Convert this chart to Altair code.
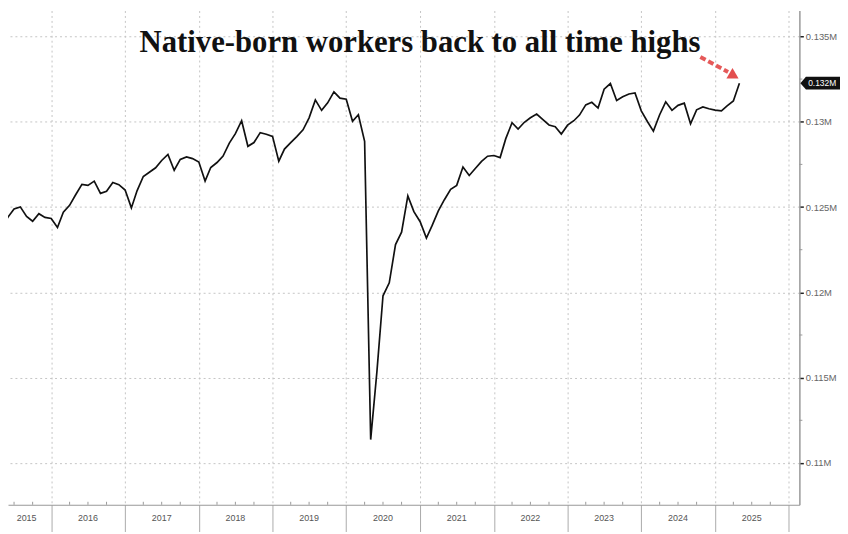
import altair as alt
import pandas as pd

# ---------------- data (monthly; units: thousands of the "M" axis unit) -------------
start_month = "2015-05-01"
values = [
    123.79, 124.41, 124.89, 125.01, 124.45, 124.17, 124.61, 124.39,
    124.33, 123.80, 124.70, 125.10, 125.72, 126.33, 126.27, 126.52, 125.80, 125.92, 126.44, 126.31,
    126.00, 124.95, 125.95, 126.79, 127.04, 127.30, 127.73, 128.08, 127.16, 127.79, 127.94, 127.84,
    127.64, 126.52, 127.32, 127.61, 127.99, 128.75, 129.30, 130.06, 128.56, 128.78, 129.36, 129.27,
    129.14, 127.69, 128.40, 128.78, 129.13, 129.53, 130.23, 131.28, 130.67, 131.11, 131.75, 131.38,
    131.32, 130.03, 130.41, 128.85, 111.37, 115.37, 119.80, 120.56, 122.80, 123.53, 125.65, 124.73,
    124.14, 123.18, 123.91, 124.78, 125.43, 126.04, 126.27, 127.35, 126.85, 127.26, 127.68, 127.98,
    128.02, 127.90, 129.01, 129.94, 129.57, 129.97, 130.23, 130.45, 130.12, 129.81, 129.71, 129.28,
    129.80, 130.06, 130.39, 130.99, 131.14, 130.80, 131.91, 132.24, 131.25, 131.46, 131.63, 131.69,
    130.64, 130.00, 129.45, 130.41, 131.17, 130.67, 130.96, 131.09, 129.88, 130.70, 130.87, 130.76,
    130.68, 130.64, 130.93, 131.22, 132.26,
]
year_labels = ["2015", "2016", "2017", "2018", "2019", "2020", "2021", "2022", "2023", "2024", "2025"]
year_label_dates = ["2015-09-01", "2016-07-01", "2017-07-01", "2018-07-01", "2019-07-01", "2020-07-01",
                    "2021-07-01", "2022-07-01", "2023-07-01", "2024-07-01", "2025-07-01"]
year_ticks = [2016, 2017, 2018, 2019, 2020, 2021, 2022, 2023, 2024, 2025, 2026]
y_ticks = [110, 115, 120, 125, 130, 135]
y_minor = [112.5, 117.5, 122.5, 127.5, 132.5]
title_text = "Native-born workers back to all time highs"

W, H = 799, 499

dates = pd.date_range(start_month, periods=len(values), freq="MS").strftime("%Y-%m-%d")
df = pd.DataFrame({"date": dates, "value": values})
last = df.tail(1).copy()

years_df = pd.DataFrame({"date": year_label_dates, "label": year_labels})
minor_x = pd.DataFrame({"date": [f"{y}-{m:02d}-01" for y in range(2015, 2026) for m in (4, 7, 10)
                                 if not (y == 2015 and m == 4)]})
minor_y = pd.DataFrame({"value": y_minor})
title_df = pd.DataFrame({"t": [title_text]})

x_scale = alt.Scale(domain=[alt.DateTime(year=2015, month=6, date=1, utc=True),
                            alt.DateTime(year=2026, month=2, date=22, utc=True)])
y_scale = alt.Scale(domain=[107.55, 136.52], zero=False, nice=False)

x_axis = alt.Axis(
    values=[alt.DateTime(year=y, month=1, date=1, utc=True) for y in year_ticks],
    labels=False, title=None, tickSize=27, tickColor="#aaaaaa", tickWidth=1,
    domainColor="#999999", domainWidth=1.2,
    grid=True, gridDash=[2, 3], gridColor="#c4c4c4", gridWidth=1,
)
y_axis = alt.Axis(
    orient="right", values=y_ticks, title=None,
    labelExpr="format(datum.value/1000, '~g') + 'M'",
    labelFont="Liberation Sans", labelFontSize=9.5, labelColor="#666666", labelPadding=2,
    tickColor="#222222", tickSize=4, tickWidth=1.5,
    domainColor="#999999", domainWidth=1.5,
    grid=True, gridDash=[2, 3], gridColor="#c4c4c4", gridWidth=1,
)

line = alt.Chart(df).mark_line(color="#111111", strokeWidth=1.7, clip=True).encode(
    x=alt.X("date:T", scale=x_scale, axis=x_axis),
    y=alt.Y("value:Q", scale=y_scale, axis=y_axis),
)

year_text = alt.Chart(years_df).mark_text(
    font="Liberation Sans", fontSize=9, color="#555555", baseline="middle"
).encode(x="date:T", y=alt.value(H + 13), text="label:N")

minor_x_ticks = alt.Chart(minor_x).mark_rule(color="#999999", strokeWidth=1).encode(
    x="date:T", y=alt.value(H - 3), y2=alt.value(H)
)
minor_y_ticks = alt.Chart(minor_y).mark_rule(color="#999999", strokeWidth=1).encode(
    y="value:Q", x=alt.value(W), x2=alt.value(W + 3)
)

title_main = alt.Chart(title_df).mark_text(
    font="Liberation Serif", fontSize=31, fontWeight="bold", color="#111111",
    align="center", baseline="alphabetic"
).encode(x=alt.value(416), y=alt.value(42), text="t:N")

arrow_line = alt.Chart(title_df).mark_rule(
    color="#e03c3c", strokeWidth=4, strokeDash=[6, 3], opacity=0.85
).encode(x=alt.value(699), y=alt.value(47), x2=alt.value(727), y2=alt.value(62))
arrow_head = alt.Chart(title_df).mark_point(
    shape="triangle-right", angle=30, size=150, filled=True, color="#e03c3c", opacity=0.9
).encode(x=alt.value(733), y=alt.value(66))

tag = alt.Chart(last).mark_point(
    shape="M -1 0 L -0.72 -0.32 L 1 -0.32 L 1 0.32 L -0.72 0.32 Z",
    size=1600, filled=True, color="#111111", opacity=1
).encode(x=alt.value(W + 21), y="value:Q")
tag_text = alt.Chart(last).transform_calculate(
    lab="format(datum.value/1000, '.3f') + 'M'"
).mark_text(
    font="Liberation Sans", fontSize=8.5, color="#ffffff", align="center", baseline="middle", dx=2
).encode(x=alt.value(W + 21), y="value:Q", text="lab:N")

chart = alt.layer(
    line, minor_x_ticks, minor_y_ticks, year_text,
    title_main, arrow_line, arrow_head, tag, tag_text
).properties(
    width=W, height=H, padding={"left": 0, "top": 0, "right": 0, "bottom": 0},
    background="white"
).configure_view(stroke=None)

chart.save("out.html", embed_options={"renderer": "svg", "actions": False})
